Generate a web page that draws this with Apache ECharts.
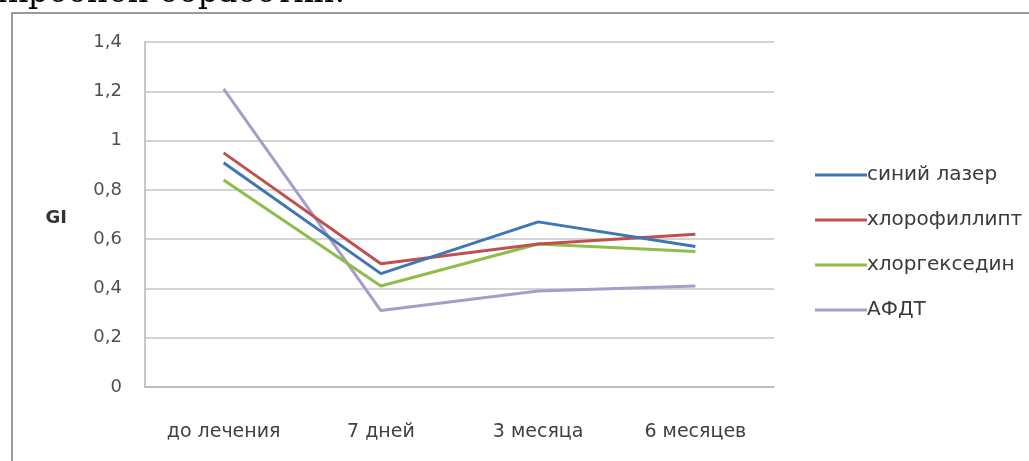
<!DOCTYPE html>
<html><head><meta charset="utf-8">
<script src="https://cdn.jsdelivr.net/npm/echarts@6/dist/echarts.min.js"></script>
<style>html,body{margin:0;padding:0;background:#fff;}#c{width:1029px;height:461px;}</style>
</head><body><div id="c"></div>
<script>
const categories = ['до лечения', '7 дней', '3 месяца', '6 месяцев'];
const blueLaser = [0.91, 0.46, 0.67, 0.57];
const chlorophyllipt = [0.95, 0.50, 0.58, 0.62];
const chlorhexidine = [0.84, 0.41, 0.58, 0.55];
const afdt = [1.21, 0.31, 0.39, 0.41];
const seriesNames = ['синий лазер', 'хлорофиллипт', 'хлоргекседин', 'АФДТ'];
const colors = ['#3f76b4', '#c0504d', '#8ebd4a', '#a99cc9'];
const seriesData = [blueLaser, chlorophyllipt, chlorhexidine, afdt];

const chart = echarts.init(document.getElementById('c'), null, {renderer: 'canvas'});
chart.setOption({
  animation: false,
  backgroundColor: '#fff',
  grid: {left: 145, right: 255, top: 42, bottom: 74},
  legend: {
    orient: 'vertical', left: 810, top: 160, itemGap: 25,
    icon: 'rect', itemWidth: 52, itemHeight: 3,
    textStyle: {fontFamily: 'DejaVu Sans', fontSize: 20, color: '#3a3a3a', padding: [0, 0, 0, -5]},
    data: seriesNames
  },
  xAxis: {
    type: 'category', data: categories, boundaryGap: true,
    axisLine: {lineStyle: {color: '#b5b5b5', width: 1.5}},
    axisTick: {show: false},
    axisLabel: {margin: 36, fontFamily: 'DejaVu Sans', fontSize: 19, color: '#404040'}
  },
  yAxis: {
    type: 'value', min: 0, max: 1.4, interval: 0.2,
    name: 'GI', nameLocation: 'middle', nameRotate: 0, nameGap: 78,
    nameTextStyle: {fontFamily: 'DejaVu Sans', fontSize: 18, fontWeight: 'bold', color: '#333', verticalAlign: 'top', lineHeight: 8},
    axisLine: {show: true, lineStyle: {color: '#b5b5b5', width: 1.5}},
    axisTick: {show: false},
    splitLine: {lineStyle: {color: '#c6c6c6', width: 1.5}},
    axisLabel: {margin: 23, fontFamily: 'DejaVu Sans', fontSize: 18, color: '#505050',
      formatter: v => String(Math.round(v * 10) / 10).replace('.', ',')}
  },
  series: seriesData.map((d, i) => ({
    name: seriesNames[i], type: 'line', data: d, showSymbol: false, symbol: 'none',
    lineStyle: {color: colors[i], width: 3}, itemStyle: {color: colors[i]}, z: 4 - i
  })),
  graphic: [
    {type: 'polyline', shape: {points: [[12, 470], [12, 13], [1040, 13]]},
     style: {stroke: '#9a9a9a', lineWidth: 2, fill: null}, silent: true},
    {type: 'text', x: 345, y: -22,
     style: {text: 'микробной обработки.', font: '32px "DejaVu Serif"', fill: '#000', align: 'right', verticalAlign: 'top'}, silent: true}
  ]
});
</script></body></html>
